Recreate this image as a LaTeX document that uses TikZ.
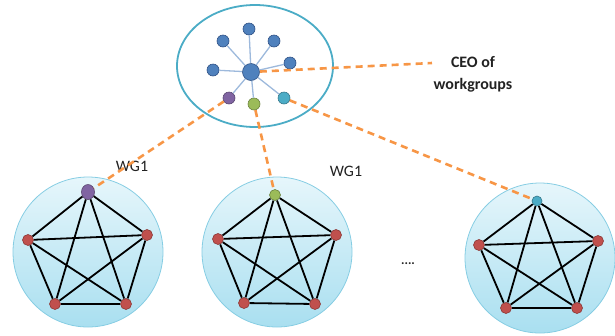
\documentclass[tikz,border=0pt]{standalone}
\usepackage{fontspec}
\setmainfont{Carlito}
\usetikzlibrary{shapes.geometric}
\definecolor{ringblue}{HTML}{4BACC6}
\definecolor{wgtop}{HTML}{E6F6FB}
\definecolor{wgbot}{HTML}{A9DFF0}
\definecolor{wgrim}{HTML}{86CDE3}
\definecolor{nodered}{HTML}{C0504D}
\definecolor{nodereddk}{HTML}{8C3836}
\definecolor{satblue}{HTML}{4F81BD}
\definecolor{satbluedk}{HTML}{2F5185}
\definecolor{spoke}{HTML}{9DB9DC}
\definecolor{npurple}{HTML}{8064A2}
\definecolor{ngreen}{HTML}{9BBB59}
\definecolor{nteal}{HTML}{4BACC6}
\definecolor{dashorange}{HTML}{F79646}
\definecolor{txt}{HTML}{222222}
\begin{document}
\begin{tikzpicture}[x=1bp,y=-1bp,
  wgcircle/.style={circle, draw=wgrim, line width=0.8bp, top color=wgtop, bottom color=wgbot, minimum size=150bp, inner sep=0pt},
  rednode/.style={circle, fill=nodered, draw=nodereddk, line width=0.6bp, minimum size=11bp, inner sep=0pt},
  satnode/.style={circle, fill=satblue, draw=satbluedk, line width=0.6bp, minimum size=12bp, inner sep=0pt},
  pedge/.style={line width=1.8bp, black},
  spokeline/.style={line width=1.3bp, spoke},
  orangedash/.style={line width=2.6bp, dashorange, dash pattern=on 7bp off 5bp},
  wglabel/.style={font=\fontsize{16}{18}\selectfont, text=txt, inner sep=0pt}
]
\useasboundingbox (0,0) rectangle (615,335);

% top ellipse
\node[ellipse, draw=ringblue, line width=1.8bp, minimum width=156bp, minimum height=122bp, inner sep=0pt] (top) at (255,66) {};

% bottom circles
\node[wgcircle] (c1) at (88,252) {};
\node[wgcircle] (c2) at (277,252) {};
\node[wgcircle] (c3) at (540,258) {};

% hub and satellites
\node[satnode, minimum size=17bp] (hub) at (251,72) {};
\node[satnode] (s1) at (249,29) {};
\node[satnode] (s2) at (223,41) {};
\node[satnode] (s3) at (274,41) {};
\node[satnode] (s4) at (213,70) {};
\node[satnode] (s5) at (290,63) {};
\node[circle, fill=npurple, draw=npurple!70!black, line width=0.6bp, minimum size=12bp, inner sep=0pt] (sp) at (229,98) {};
\node[circle, fill=ngreen, draw=ngreen!70!black, line width=0.6bp, minimum size=12bp, inner sep=0pt] (sg) at (254,104) {};
\node[circle, fill=nteal, draw=nteal!70!black, line width=0.6bp, minimum size=12bp, inner sep=0pt] (st) at (284,98) {};
\foreach \s in {s1,s2,s3,s4,s5,sp,sg,st} \draw[spokeline] (hub) -- (\s);

% workgroup 1
\node[ellipse, fill=npurple, draw=npurple!70!black, line width=0.6bp, minimum width=13bp, minimum height=15bp, inner sep=0pt] (a1) at (88,192) {};
\node[rednode] (a2) at (147,235) {};
\node[rednode] (a3) at (126,304) {};
\node[rednode] (a4) at (55,304) {};
\node[rednode] (a5) at (28,240) {};
% workgroup 2
\node[circle, fill=ngreen, draw=ngreen!70!black, line width=0.6bp, minimum size=11bp, inner sep=0pt] (b1) at (275,195) {};
\node[rednode] (b2) at (336,235) {};
\node[rednode] (b3) at (315,304) {};
\node[rednode] (b4) at (244,303) {};
\node[rednode] (b5) at (218,239) {};
% workgroup 3
\node[circle, fill=nteal, draw=nteal!70!black, line width=0.6bp, minimum size=10bp, inner sep=0pt] (d1) at (537,201) {};
\node[rednode] (d2) at (598,241) {};
\node[rednode] (d3) at (577,308) {};
\node[rednode] (d4) at (506,308) {};
\node[rednode] (d5) at (479,245) {};

\foreach \g in {a,b,d} {
  \foreach \i/\j in {1/2,1/3,1/4,1/5,2/3,2/4,2/5,3/4,3/5,4/5}
    \draw[pedge] (\g\i) -- (\g\j);
}

% labels
\node[font=\bfseries\fontsize{16}{22}\selectfont, text=txt, align=center, inner sep=0pt] (ceo) at (473,74) {CEO of\\workgroups};
\coordinate (ceoend) at (432,63);
\node[wglabel] (wg1a) at (132,166) {WG1};
\node[wglabel] (wg1b) at (346,171) {WG1};
\node[font=\fontsize{13}{15}\selectfont\bfseries, text=txt, inner sep=0pt] (dots) at (408,264) {....};

% orange dashed connectors
\draw[orangedash] (hub) -- (ceoend);
\draw[orangedash] (sp) -- (a1);
\draw[orangedash] (sg) -- (b1);
\draw[orangedash] (st) -- (d1);
\end{tikzpicture}
\end{document}
